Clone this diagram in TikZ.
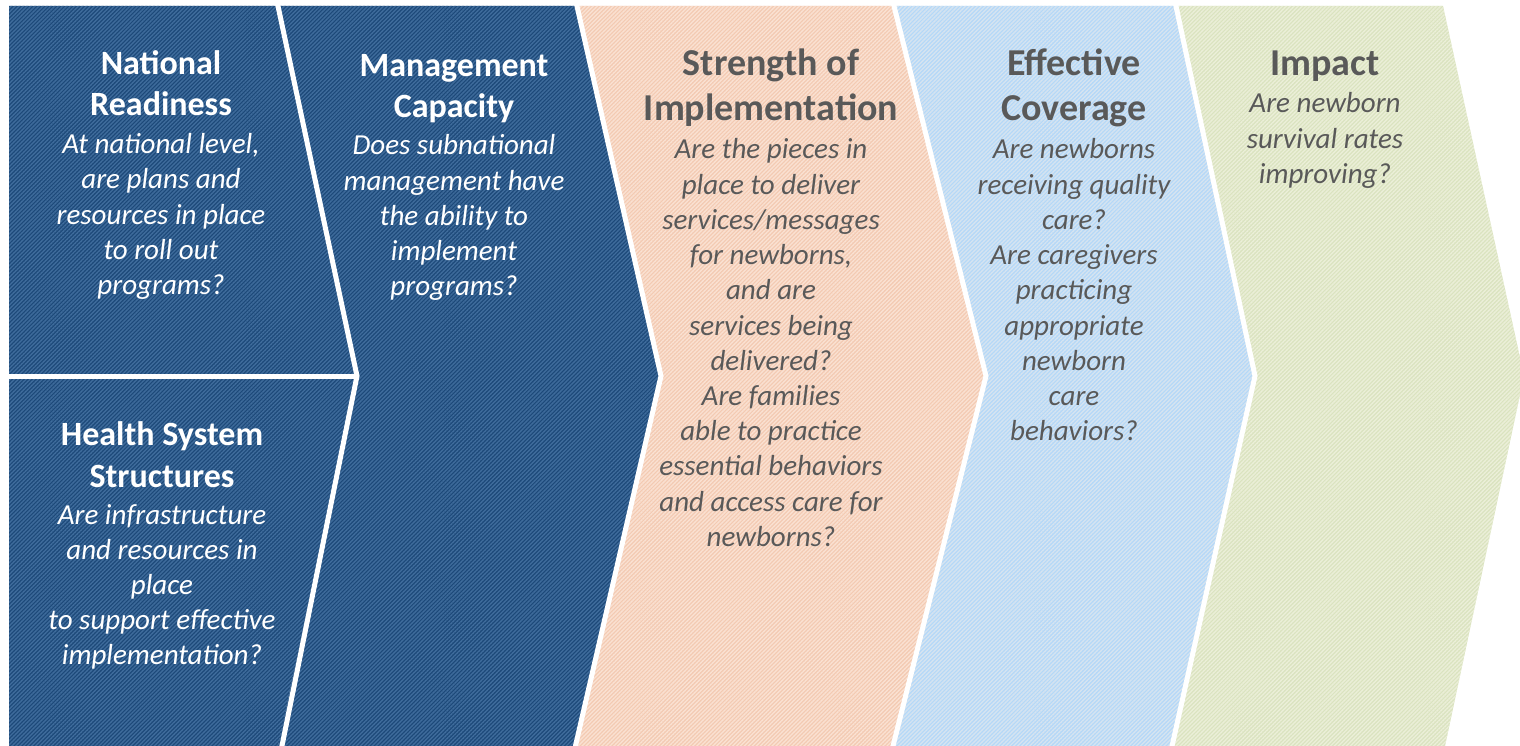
\documentclass[tikz,border=0pt]{standalone}
\usepackage{fontspec}
\setmainfont{Carlito}
\usetikzlibrary{patterns.meta}
\definecolor{dkb}{HTML}{1D4979}
\definecolor{dkbs}{HTML}{3F6C9C}
\definecolor{org}{HTML}{F3CAB2}
\definecolor{orgs}{HTML}{FAE1D2}
\definecolor{lbl}{HTML}{B4D8F8}
\definecolor{lbls}{HTML}{D5E4F1}
\definecolor{grn}{HTML}{DAE3BF}
\definecolor{grns}{HTML}{EBEFD8}
\definecolor{txtgray}{HTML}{595959}
\tikzset{
  panel/.style n args={2}{fill=#1, postaction={pattern={Lines[angle=45,distance=2.8pt,line width=1.4pt]}, pattern color=#2}},
  sep/.style={draw=white, line width=5pt, line join=miter},
  ttlA/.style={anchor=base, inner sep=0pt, font=\fontsize{34}{41}\selectfont\bfseries},
  ttlB/.style={anchor=base, inner sep=0pt, font=\fontsize{38}{45}\selectfont\bfseries},
  bodytxt/.style={anchor=base, inner sep=0pt, font=\fontsize{29}{35}\selectfont\itshape},
}
\begin{document}
\begin{tikzpicture}[x=1pt,y=-1pt]
\useasboundingbox (0,0) rectangle (1520,746);
\clip (0,0) rectangle (1520,746);
% panels
\path[panel={dkb}{dkbs}] (9,6) -- (278,6) -- (357,376) -- (278,746) -- (9,746) -- cycle;
\path[panel={dkb}{dkbs}] (278,6) -- (577,6) -- (661,376) -- (575,746) -- (278,746) -- (357,376) -- cycle;
\path[panel={org}{orgs}] (577,6) -- (894,6) -- (986,376) -- (893,746) -- (575,746) -- (661,376) -- cycle;
\path[panel={lbl}{lbls}] (894,6) -- (1176,6) -- (1255,376) -- (1172,746) -- (893,746) -- (986,376) -- cycle;
\path[panel={grn}{grns}] (1176,6) -- (1443,6) -- (1524,376) -- (1445,746) -- (1172,746) -- (1255,376) -- cycle;
% white separators
\draw[sep] (276.7,0) -- (357,376) -- (279.1,760);
\draw[sep] (9,376) -- (357,376);
\draw[sep] (575.6,0) -- (661,376) -- (572.2,760);
\draw[sep] (892.5,0) -- (986,376) -- (889.5,760);
\draw[sep] (1174.7,0) -- (1255,376) -- (1168.9,760);
% National Readiness
\foreach \t [count=\i] in {National, Readiness}
  \node[ttlA, text=white] (nrT\i) at (161,{75+41*(\i-1)}) {\t};
\foreach \t [count=\i] in {{At national level,}, are plans and, resources in place, to roll out, programs?}
  \node[bodytxt, text=white] (nrB\i) at (161,{154+35*(\i-1)}) {\t};
% Health System Structures
\foreach \t [count=\i] in {Health System, Structures}
  \node[ttlA, text=white] (hsT\i) at (162,{445+42*(\i-1)}) {\t};
\foreach \t [count=\i] in {Are infrastructure, and resources in, place, to support effective, implementation?}
  \node[bodytxt, text=white] (hsB\i) at (162,{524+35.2*(\i-1)}) {\t};
% Management Capacity
\foreach \t [count=\i] in {Management, Capacity}
  \node[ttlA, text=white] (mcT\i) at (454,{77+41*(\i-1)}) {\t};
\foreach \t [count=\i] in {Does subnational, management have, the ability to, implement, programs?}
  \node[bodytxt, text=white] (mcB\i) at (454,{155+35.2*(\i-1)}) {\t};
% Strength of Implementation
\foreach \t [count=\i] in {Strength of, Implementation}
  \node[ttlB, text=txtgray] (siT\i) at (771,{76+45*(\i-1)}) {\t};
\foreach \t [count=\i] in {Are the pieces in, place to deliver, services/messages, {for newborns,}, and are, services being, delivered?, Are families, able to practice, essential behaviors, and access care for, newborns?}
  \node[bodytxt, text=txtgray] (siB\i) at (771,{159+35.2*(\i-1)}) {\t};
% Effective Coverage
\foreach \t [count=\i] in {Effective, Coverage}
  \node[ttlB, text=txtgray] (ecT\i) at (1074,{76+45*(\i-1)}) {\t};
\foreach \t [count=\i] in {Are newborns, receiving quality, care?, Are caregivers, practicing, appropriate, newborn, care, behaviors?}
  \node[bodytxt, text=txtgray] (ecB\i) at (1074,{159+35.2*(\i-1)}) {\t};
% Impact
\node[ttlB, text=txtgray] (imT) at (1325,76) {Impact};
\foreach \t [count=\i] in {Are newborn, survival rates, improving?}
  \node[bodytxt, text=txtgray] (imB\i) at (1325,{113+35.2*(\i-1)}) {\t};
\end{tikzpicture}
\end{document}
